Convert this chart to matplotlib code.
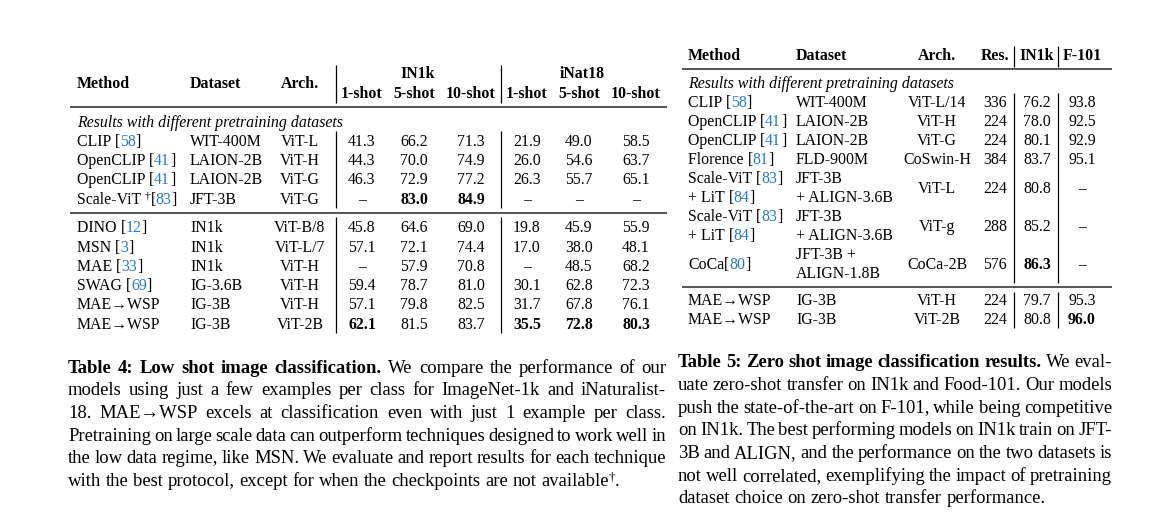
import re
import matplotlib.pyplot as plt

plt.rcParams['font.family'] = ['Liberation Serif', 'DejaVu Serif']

# ---------------- Table 4 data ----------------
t4_methods = ["CLIP [58]", "OpenCLIP [41]", "OpenCLIP [41]", "Scale-ViT †[83]",
              "DINO [12]", "MSN [3]", "MAE [33]", "SWAG [69]", "MAE→WSP", "MAE→WSP"]
t4_datasets = ["WIT-400M", "LAION-2B", "LAION-2B", "JFT-3B",
               "IN1k", "IN1k", "IN1k", "IG-3.6B", "IG-3B", "IG-3B"]
t4_archs = ["ViT-L", "ViT-H", "ViT-G", "ViT-G",
            "ViT-B/8", "ViT-L/7", "ViT-H", "ViT-H", "ViT-H", "ViT-2B"]
t4_groups = [4, 6]
t4_shots = ["1-shot", "5-shot", "10-shot"]
t4_in1k = [[41.3, 66.2, 71.3], [44.3, 70.0, 74.9], [46.3, 72.9, 77.2], [None, 83.0, 84.9],
           [45.8, 64.6, 69.0], [57.1, 72.1, 74.4], [None, 57.9, 70.8], [59.4, 78.7, 81.0],
           [57.1, 79.8, 82.5], [62.1, 81.5, 83.7]]
t4_inat18 = [[21.9, 49.0, 58.5], [26.0, 54.6, 63.7], [26.3, 55.7, 65.1], [None, None, None],
             [19.8, 45.9, 55.9], [17.0, 38.0, 48.1], [None, 48.5, 68.2], [30.1, 62.8, 72.3],
             [31.7, 67.8, 76.1], [35.5, 72.8, 80.3]]

# ---------------- Table 5 data ----------------
t5_methods = [["CLIP [58]"], ["OpenCLIP [41]"], ["OpenCLIP [41]"], ["Florence [81]"],
              ["Scale-ViT [83]", "+ LiT [84]"], ["Scale-ViT [83]", "+ LiT [84]"],
              ["CoCa[80]"], ["MAE→WSP"], ["MAE→WSP"]]
t5_datasets = [["WIT-400M"], ["LAION-2B"], ["LAION-2B"], ["FLD-900M"],
               ["JFT-3B", "+ ALIGN-3.6B"], ["JFT-3B", "+ ALIGN-3.6B"],
               ["JFT-3B +", "ALIGN-1.8B"], ["IG-3B"], ["IG-3B"]]
t5_archs = ["ViT-L/14", "ViT-H", "ViT-G", "CoSwin-H", "ViT-L", "ViT-g", "CoCa-2B", "ViT-H", "ViT-2B"]
t5_res = [336, 224, 224, 384, 224, 288, 576, 224, 224]
t5_in1k = [76.2, 78.0, 80.1, 83.7, 80.8, 85.2, 86.3, 79.7, 80.8]
t5_f101 = [93.8, 92.5, 92.9, 95.1, None, None, None, 95.3, 96.0]
t5_groups = [7, 2]

subtitle = "Results with different pretraining datasets"

# ---------------- captions ----------------
t4_caption_bold = "Table 4: Low shot image classification."
t4_caption = ["We compare the performance of our",
              "models using just a few examples per class for ImageNet-1k and iNaturalist-",
              "18. MAE→WSP excels at classification even with just 1 example per class.",
              "Pretraining on large scale data can outperform techniques designed to work well in",
              "the low data regime, like MSN. We evaluate and report results for each technique",
              "with the best protocol, except for when the checkpoints are not available†."]
t5_caption_bold = "Table 5: Zero shot image classification results."
t5_caption = ["We eval-",
              "uate zero-shot transfer on IN1k and Food-101. Our models",
              "push the state-of-the-art on F-101, while being competitive",
              "on IN1k. The best performing models on IN1k train on JFT-",
              "3B and ALIGN, and the performance on the two datasets is",
              "not well correlated, exemplifying the impact of pretraining",
              "dataset choice on zero-shot transfer performance."]

W, H = 1151, 523
fig = plt.figure(figsize=(W / 100, H / 100), dpi=100)
ax = fig.add_axes([0, 0, 1, 1])
ax.set_xlim(0, W)
ax.set_ylim(H, 0)
ax.axis('off')
renderer = fig.canvas.get_renderer()

BLUE = '#2b7bbf'
TS = 11.4   # table text size
CS = 13.4   # caption text size

_cache = {}


def text_w(s, size, weight='normal', style='normal'):
    key = (s, size, weight, style)
    if key not in _cache:
        ws = []
        for probe in ('|' + s + '|', '||'):
            t = ax.text(0, 0, probe, fontsize=size, fontweight=weight, fontstyle=style)
            ws.append(t.get_window_extent(renderer).width)
            t.remove()
        _cache[key] = ws[0] - ws[1]
    return _cache[key]


def segments(s, size, weight='normal', style='normal'):
    base = dict(fontsize=size, fontweight=weight, fontstyle=style)
    out = []
    for part in re.split(r'(\[\d+\]|†)', s):
        if not part:
            continue
        if part == '†':
            out.append(('†', dict(base, fontsize=size * 0.7, color='black'), -0.45 * size))
        elif re.fullmatch(r'\[\d+\]', part):
            out.append(('[', dict(base, color='black'), 0))
            out.append((part[1:-1], dict(base, color=BLUE), 0))
            out.append((']', dict(base, color='black'), 0))
        else:
            out.append((part, dict(base, color='black'), 0))
    return out


def rich_width(s, size, weight='normal', style='normal'):
    return sum(text_w(t, kw['fontsize'], kw['fontweight'], kw['fontstyle'])
               for t, kw, _ in segments(s, size, weight, style))


def draw_rich(x, yc, s, size, ha='left', weight='normal', style='normal'):
    segs = segments(s, size, weight, style)
    widths = [text_w(t, kw['fontsize'], kw['fontweight'], kw['fontstyle']) for t, kw, _ in segs]
    total = sum(widths)
    if ha == 'center':
        x -= total / 2
    elif ha == 'right':
        x -= total
    base = yc + 0.46 * size
    for (t, kw, dy), w in zip(segs, widths):
        ax.text(x, base + dy, t, va='baseline', ha='left', **kw)
        x += w
    return total


def hrule(x0, x1, y):
    ax.plot([x0, x1], [y, y], color='#555555', lw=1.4, solid_capstyle='butt')


def vrule(x, y0, y1):
    ax.plot([x, x], [y0, y1], color='black', lw=0.9, solid_capstyle='butt')


def fmt(v):
    return '–' if v is None else f"{v:.1f}"


def col_max(vals):
    return max(v for v in vals if v is not None)


def draw_caption(x0, x1, yc, bold, lines, size, step):
    sp = text_w(' ', size)
    for i, line in enumerate(lines):
        y = yc + i * step
        words = [(w, 'normal') for w in line.split()]
        if i == 0:
            words = [(w, 'bold') for w in bold.split()] + words
        widths = [rich_width(w, size, wt) for w, wt in words]
        if i == len(lines) - 1:
            gap = sp
        else:
            gap = (x1 - x0 - sum(widths)) / (len(words) - 1)
        x = x0
        for (w, wt), wd in zip(words, widths):
            draw_rich(x, y, w, size, weight=wt)
            x += wd + gap


# ================= Table 4 =================
t4_cols = [362, 414, 471, 527, 579, 636]
draw_rich(77, 83, "Method", TS, weight='bold')
draw_rich(190, 83, "Dataset", TS, weight='bold')
draw_rich(300, 83, "Arch.", TS, ha='center', weight='bold')
draw_rich(418, 73, "IN1k", TS, ha='center', weight='bold')
draw_rich(582, 73, "iNat18", TS, ha='center', weight='bold')
for c, lab in zip(t4_cols, t4_shots * 2):
    draw_rich(c, 93, lab, TS, ha='center', weight='bold')
vrule(336, 65, 103)
vrule(501, 65, 103)
hrule(70, 667, 107)
draw_rich(77, 122, subtitle, TS, style='italic')

t4_values = [a + b for a, b in zip(t4_in1k, t4_inat18)]
t4_best = [col_max([row[j] for row in t4_values]) for j in range(6)]
starts = [140.5, 227]
spans = [(131, 208), (217, 333)]
step = 19.3
i = 0
for g, n in enumerate(t4_groups):
    for k in range(n):
        y = starts[g] + k * step
        draw_rich(77, y, t4_methods[i], TS)
        draw_rich(190, y, t4_datasets[i], TS)
        draw_rich(300, y, t4_archs[i], TS, ha='center')
        for j, c in enumerate(t4_cols):
            v = t4_values[i][j]
            wt = 'bold' if v is not None and v == t4_best[j] else 'normal'
            draw_rich(c, y, fmt(v), TS, ha='center', weight=wt)
        i += 1
    vrule(336, *spans[g])
    vrule(501, *spans[g])
hrule(70, 667, 213)

# ================= Table 5 =================
draw_rich(688, 55, "Method", TS, weight='bold')
draw_rich(796, 55, "Dataset", TS, weight='bold')
draw_rich(937, 55, "Arch.", TS, ha='center', weight='bold')
draw_rich(995, 55, "Res.", TS, ha='center', weight='bold')
draw_rich(1037, 55, "IN1k", TS, ha='center', weight='bold')
draw_rich(1082, 55, "F-101", TS, ha='center', weight='bold')
vrule(1014, 46, 67)
vrule(1058, 46, 67)
hrule(682, 1112, 69)
draw_rich(688, 83, subtitle, TS, style='italic')

best_in1k = col_max(t5_in1k)
best_f101 = col_max(t5_f101)
line = 19
starts = [102, 300]
spans = [(93, 283), (292, 328)]
i = 0
for g, n in enumerate(t5_groups):
    cur = starts[g]
    for k in range(n):
        nl = max(len(t5_methods[i]), len(t5_datasets[i]))
        mid = cur + (nl - 1) * line / 2
        for m, s in enumerate(t5_methods[i]):
            yy = mid if len(t5_methods[i]) == 1 else cur + m * line
            draw_rich(688, yy, s, TS)
        for m, s in enumerate(t5_datasets[i]):
            yy = mid if len(t5_datasets[i]) == 1 else cur + m * line
            draw_rich(796, yy, s, TS)
        draw_rich(937, mid, t5_archs[i], TS, ha='center')
        draw_rich(995, mid, str(t5_res[i]), TS, ha='center')
        v = t5_in1k[i]
        draw_rich(1037, mid, fmt(v), TS, ha='center', weight='bold' if v == best_in1k else 'normal')
        v = t5_f101[i]
        draw_rich(1082, mid, fmt(v), TS, ha='center', weight='bold' if v == best_f101 else 'normal')
        cur += nl * line
        i += 1
    vrule(1014, *spans[g])
    vrule(1058, *spans[g])
hrule(682, 1112, 287)

# ================= captions =================
draw_caption(68, 666, 366.5, t4_caption_bold, t4_caption, CS, 22.7)
draw_caption(678, 1112, 361, t5_caption_bold, t5_caption, CS, 22.7)

fig.savefig("out.png", dpi=100, facecolor='white')
